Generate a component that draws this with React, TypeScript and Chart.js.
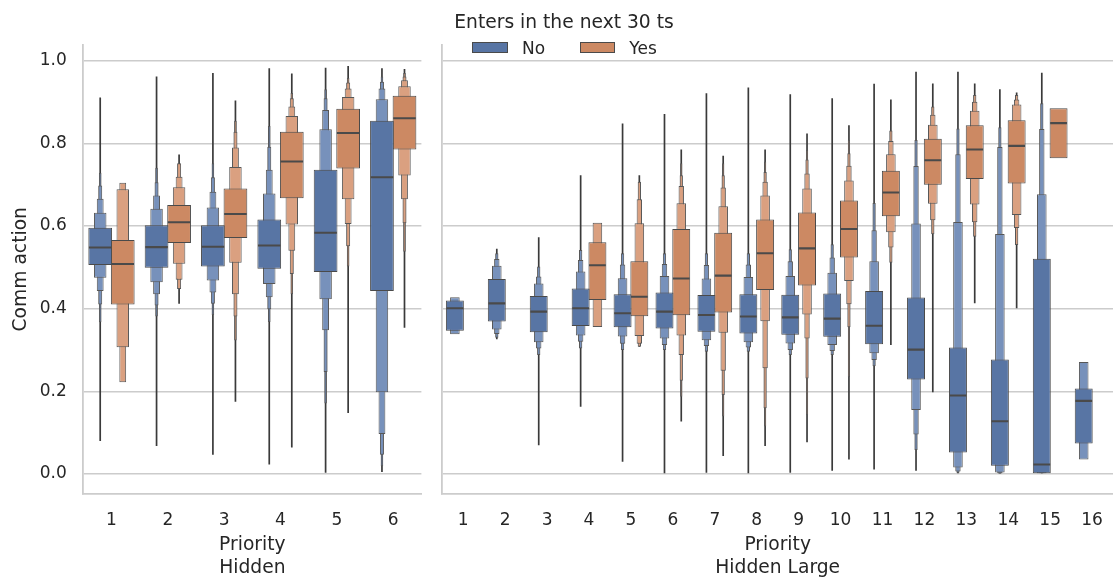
import React, { useEffect, useRef } from 'react';
import { Chart, registerables } from 'chart.js';

Chart.register(...registerables);

// ---- data -----------------------------------------------------------------

const hiddenPriorities = ['1', '2', '3', '4', '5', '6'];
const largePriorities = ['1', '2', '3', '4', '5', '6', '7', '8', '9', '10', '11', '12', '13', '14', '15', '16'];
const hueLabels = ['No', 'Yes'];

// Letter-value boxes per category, innermost first: [lower, upper]
const hiddenNoMedian = [0.548, 0.549, 0.55, 0.553, 0.584, 0.718];
const hiddenNoBoxes = [
  [[0.506, 0.596], [0.475, 0.632], [0.443, 0.666], [0.41, 0.698], [0.367, 0.729]],
  [[0.499, 0.602], [0.464, 0.642], [0.435, 0.674], [0.408, 0.706], [0.381, 0.741]],
  [[0.502, 0.602], [0.468, 0.645], [0.439, 0.683], [0.412, 0.718], [0.385, 0.752]],
  [[0.497, 0.616], [0.46, 0.679], [0.428, 0.736], [0.399, 0.792], [0.368, 0.842]],
  [[0.489, 0.736], [0.423, 0.834], [0.348, 0.881], [0.247, 0.909], [0.171, 0.931]],
  [[0.443, 0.855], [0.198, 0.907], [0.097, 0.933], [0.047, 0.949], [0.019, 0.962]],
];
const hiddenNoRange = [[0.08, 0.911], [0.068, 0.962], [0.047, 0.97], [0.023, 0.982], [0.003, 0.983], [0.005, 0.982]];

const hiddenYesMedian = [0.508, 0.609, 0.629, 0.756, 0.825, 0.861];
const hiddenYesBoxes = [
  [[0.41, 0.566], [0.307, 0.689], [0.222, 0.705]],
  [[0.559, 0.651], [0.509, 0.694], [0.47, 0.719], [0.448, 0.752]],
  [[0.571, 0.691], [0.511, 0.743], [0.435, 0.79], [0.381, 0.828], [0.323, 0.855]],
  [[0.667, 0.828], [0.604, 0.866], [0.54, 0.889], [0.484, 0.909], [0.435, 0.922]],
  [[0.739, 0.884], [0.665, 0.912], [0.605, 0.933], [0.551, 0.947], [0.502, 0.958]],
  [[0.785, 0.915], [0.722, 0.938], [0.665, 0.953], [0.607, 0.962], [0.538, 0.97]],
];
const hiddenYesRange = [null, [0.412, 0.773], [0.175, 0.904], [0.064, 0.969], [0.148, 0.987], [0.354, 0.98]];

const largeNoMedian = [0.401, 0.413, 0.393, 0.401, 0.389, 0.393, 0.385, 0.381, 0.379, 0.376, 0.359, 0.301, 0.19, 0.128, 0.023, 0.177];
const largeNoBoxes = [
  [[0.347, 0.42], [0.338, 0.428]],
  [[0.369, 0.472], [0.35, 0.504], [0.339, 0.52], [0.33, 0.534]],
  [[0.343, 0.431], [0.319, 0.461], [0.304, 0.478], [0.288, 0.502]],
  [[0.358, 0.449], [0.335, 0.49], [0.32, 0.518], [0.304, 0.542]],
  [[0.355, 0.435], [0.333, 0.474], [0.315, 0.507], [0.3, 0.534]],
  [[0.352, 0.439], [0.328, 0.479], [0.312, 0.508], [0.3, 0.534]],
  [[0.344, 0.433], [0.324, 0.473], [0.31, 0.506], [0.296, 0.534]],
  [[0.34, 0.435], [0.319, 0.477], [0.306, 0.507], [0.296, 0.534]],
  [[0.337, 0.434], [0.316, 0.479], [0.3, 0.515], [0.288, 0.544]],
  [[0.332, 0.437], [0.312, 0.487], [0.298, 0.524], [0.288, 0.556]],
  [[0.314, 0.443], [0.292, 0.515], [0.276, 0.59], [0.261, 0.656]],
  [[0.229, 0.427], [0.155, 0.606], [0.096, 0.745], [0.058, 0.808]],
  [[0.052, 0.306], [0.016, 0.61], [0.006, 0.774], [0.003, 0.836]],
  [[0.02, 0.277], [0.004, 0.581], [0.002, 0.791], [0.001, 0.839]],
  [[0.002, 0.521], [0.0, 0.677], [0.0, 0.835], [0.0, 0.897]],
  [[0.074, 0.207], [0.035, 0.271]],
];
const largeNoRange = [
  null, [0.326, 0.545], [0.07, 0.573], [0.163, 0.723], [0.03, 0.848], [0.0, 0.871], [0.003, 0.921], [0.0, 0.935],
  [0.003, 0.919], [0.008, 0.909], [0.011, 0.944], [0.008, 0.973], [0.0, 0.973], [0.0, 0.931], [0.0, 0.971], null,
];

const largeYesMedian = [null, null, null, 0.505, 0.429, 0.473, 0.48, 0.534, 0.546, 0.593, 0.681, 0.759, 0.785, 0.794, 0.849, null];
const largeYesBoxes = [
  null,
  null,
  null,
  [[0.421, 0.561], [0.356, 0.608]],
  [[0.382, 0.515], [0.334, 0.607], [0.315, 0.665], [0.308, 0.707]],
  [[0.384, 0.593], [0.335, 0.655], [0.288, 0.697], [0.226, 0.723], [0.187, 0.752]],
  [[0.391, 0.584], [0.342, 0.648], [0.25, 0.693], [0.191, 0.723], [0.139, 0.752]],
  [[0.445, 0.616], [0.37, 0.674], [0.256, 0.707], [0.159, 0.731], [0.115, 0.756]],
  [[0.456, 0.633], [0.386, 0.691], [0.328, 0.727], [0.231, 0.761], [0.143, 0.784]],
  [[0.524, 0.662], [0.467, 0.71], [0.411, 0.746], [0.355, 0.776], [0.235, 0.808]],
  [[0.624, 0.734], [0.585, 0.774], [0.548, 0.806], [0.511, 0.831]],
  [[0.7, 0.811], [0.654, 0.845], [0.614, 0.869], [0.58, 0.889]],
  [[0.714, 0.844], [0.652, 0.879], [0.609, 0.901], [0.574, 0.917]],
  [[0.703, 0.856], [0.627, 0.894], [0.595, 0.906], [0.554, 0.917]],
  [[0.764, 0.885]],
  null,
];
const largeYesRange = [
  null, null, null, null, [0.308, 0.723], [0.127, 0.785], [0.044, 0.77], [0.068, 0.785],
  [0.077, 0.824], [0.035, 0.844], [0.312, 0.906], [0.198, 0.945], [0.413, 0.945], [0.401, 0.923], null, null,
];

// ---- style ----------------------------------------------------------------

const FONT = '"DejaVu Sans", sans-serif';
const TEXT = '#262626';
const GRID = '#cccccc';
const EDGE = '#4a4a4a';
const LIGHT_EDGE = '#575757';
const RANGE_COLOR = '#3a3a3a';
const HUE_STYLE = {
  No: { main: '#5875a4', light: '#7791bb' },
  Yes: { main: '#cc8963', light: '#daa080' },
};
const MEDIAN_HALF = 0.0025;
const Y_MIN = -0.047;
const Y_MAX = 1.038;

type Box = number[][] | null;
interface Group {
  hue: 'No' | 'Yes';
  median: (number | null)[];
  boxes: Box[];
  range: (number[] | null)[];
}

function buildDatasets(groups: Group[], chunk: number) {
  const layers: any[][] = [];
  const maxLevels = Math.max(...groups.map((g) => Math.max(...g.boxes.map((b) => (b ? b.length : 0)))));
  // median bars on top
  layers.push(
    groups.map((g) => ({
      label: g.hue + ' median',
      stack: g.hue,
      order: 0,
      data: g.median.map((m) => (m == null ? null : [m - MEDIAN_HALF, m + MEDIAN_HALF])),
      backgroundColor: EDGE,
      borderWidth: 0,
      barPercentage: 1,
    }))
  );
  for (let k = 0; k < maxLevels; k++) {
    layers.push(
      groups.map((g) => ({
        label: g.hue + ' level ' + (k + 1),
        stack: g.hue,
        order: k + 1,
        data: g.boxes.map((b) => (b && b[k] ? b[k] : null)),
        backgroundColor: k === 0 ? HUE_STYLE[g.hue].main : HUE_STYLE[g.hue].light,
        borderColor: k === 0 ? EDGE : LIGHT_EDGE,
        borderWidth: 1,
        borderSkipped: false,
        barPercentage: Math.pow(0.5, k) + 1.2 / chunk,
      }))
    );
  }
  layers.push(
    groups.map((g) => ({
      label: g.hue + ' range',
      stack: g.hue,
      order: 50,
      data: g.range,
      backgroundColor: RANGE_COLOR,
      borderWidth: 0,
      barPercentage: 1.7 / chunk,
    }))
  );
  const out: any[] = [];
  layers.forEach((layer) => layer.forEach((d) => out.push({ ...d, categoryPercentage: 0.8, grouped: true, inflateAmount: 0 })));
  return out;
}

interface PanelProps {
  labels: string[];
  groups: Group[];
  left: number;
  width: number;
  yAxisWidth: number;
  padRight: number;
  chunk: number;
  showY: boolean;
  xTitle: string[];
}

function Panel({ labels, groups, left, width, yAxisWidth, padRight, chunk, showY, xTitle }: PanelProps) {
  const ref = useRef<HTMLCanvasElement | null>(null);
  useEffect(() => {
    if (!ref.current) return;
    const chart = new Chart(ref.current, {
      type: 'bar',
      data: { labels, datasets: buildDatasets(groups, chunk) },
      options: {
        responsive: false,
        maintainAspectRatio: false,
        animation: false,
        events: [],
        layout: { padding: { top: 45, right: padRight, left: 0, bottom: 0 } },
        plugins: { legend: { display: false }, tooltip: { enabled: false } },
        scales: {
          x: {
            type: 'category',
            offset: true,
            grid: { display: false, offset: true, drawTicks: false },
            border: { display: true, color: GRID, width: 1.8 },
            ticks: { color: TEXT, font: { family: FONT, size: 17 }, padding: 17, maxRotation: 0, autoSkip: false },
            title: {
              display: true,
              text: xTitle,
              color: TEXT,
              font: { family: FONT, size: 18.7, lineHeight: 1.19 },
              padding: { top: 0, bottom: 1 },
            },
            afterFit: (s: any) => {
              s.height = 86.5;
            },
          },
          y: {
            type: 'linear',
            min: Y_MIN,
            max: Y_MAX,
            stacked: false,
            grid: { color: GRID, lineWidth: 1.4, drawTicks: false },
            border: { display: true, color: GRID, width: 1.8 },
            ticks: {
              display: showY,
              stepSize: 0.2,
              includeBounds: false,
              padding: 16.6,
              color: TEXT,
              font: { family: FONT, size: 17 },
              callback: (v: any) => Number(v).toFixed(1),
            },
            title: {
              display: showY,
              text: 'Comm action',
              color: TEXT,
              font: { family: FONT, size: 18.7 },
              padding: { top: 10, bottom: 0 },
            },
            afterFit: (s: any) => {
              s.width = yAxisWidth;
            },
          },
        },
      } as any,
    });
    return () => chart.destroy();
  }, []);
  return <canvas ref={ref} width={width} height={580} style={{ position: 'absolute', left, top: 0, width, height: 580 }} />;
}

function Legend() {
  const swatchLeft = [472.3, 580];
  const textLeft = [522, 629.3];
  return (
    <>
      <div
        style={{
          position: 'absolute',
          left: 564,
          top: 21.7,
          transform: 'translate(-50%, -50%)',
          font: `18.7px ${FONT}`,
          color: TEXT,
          whiteSpace: 'nowrap',
          lineHeight: '22px',
        }}
      >
        Enters in the next 30 ts
      </div>
      {hueLabels.map((h, i) => (
        <React.Fragment key={h}>
          <div
            style={{
              position: 'absolute',
              left: swatchLeft[i],
              top: 41.7,
              width: 35.4,
              height: 11.6,
              boxSizing: 'border-box',
              background: HUE_STYLE[h as 'No' | 'Yes'].main,
              border: `1px solid ${EDGE}`,
            }}
          />
          <div
            style={{
              position: 'absolute',
              left: textLeft[i],
              top: 48.3,
              transform: 'translateY(-50%)',
              font: `17px ${FONT}`,
              color: TEXT,
              lineHeight: '20px',
              whiteSpace: 'nowrap',
            }}
          >
            {h}
          </div>
        </React.Fragment>
      ))}
    </>
  );
}

export default function App() {
  const hiddenGroups: Group[] = [
    { hue: 'No', median: hiddenNoMedian, boxes: hiddenNoBoxes, range: hiddenNoRange },
    { hue: 'Yes', median: hiddenYesMedian, boxes: hiddenYesBoxes, range: hiddenYesRange },
  ];
  const largeGroups: Group[] = [
    { hue: 'No', median: largeNoMedian, boxes: largeNoBoxes, range: largeNoRange },
    { hue: 'Yes', median: largeYesMedian, boxes: largeYesBoxes, range: largeYesRange },
  ];
  return (
    <div
      style={{
        position: 'absolute',
        left: 0,
        top: 0,
        width: 1113,
        height: 580,
        overflow: 'hidden',
        background: '#ffffff',
      }}
    >
      <Panel
        labels={hiddenPriorities}
        groups={hiddenGroups}
        left={0}
        width={425}
        yAxisWidth={83.3}
        padRight={3.6}
        chunk={22.5}
        showY={true}
        xTitle={['Priority', 'Hidden']}
      />
      <Panel
        labels={largePriorities}
        groups={largeGroups}
        left={430}
        width={690}
        yAxisWidth={12.3}
        padRight={2.5}
        chunk={16.9}
        showY={false}
        xTitle={['Priority', 'Hidden Large']}
      />
      <Legend />
    </div>
  );
}
